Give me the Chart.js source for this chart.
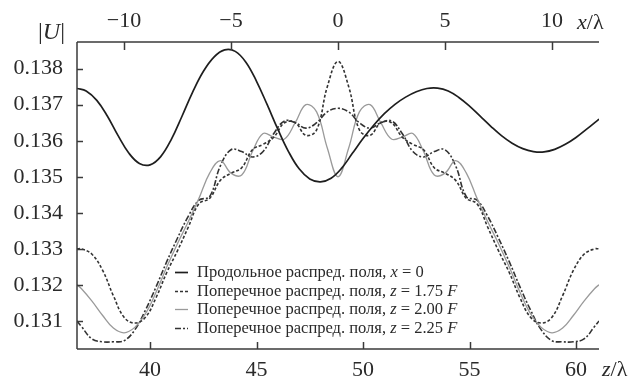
<!DOCTYPE html>
<html>
<head>
<meta charset="utf-8">
<script src="https://cdn.jsdelivr.net/npm/chart.js@4"></script>
<style>
  html, body { margin: 0; padding: 0; background: #fff; }
  #field { display: block; }
</style>
</head>
<body>
<canvas id="field" width="636" height="380"></canvas>
<script>
'use strict'

// longitudinal |U| along the axis, bottom scale z/λ
const zLong = [36.57, 37, 37.5, 38, 38.5, 39, 39.5, 40, 40.5, 41, 41.5, 42, 42.5, 43, 43.5, 44, 44.5, 45, 45.5, 46, 46.5, 47, 47.5, 48, 48.5, 49, 49.5, 50, 50.5, 51, 51.5, 52, 52.5, 53, 53.5, 54, 54.5, 55, 55.5, 56, 56.5, 57, 57.5, 58, 58.5, 59, 59.5, 60, 60.5, 61.08]
const uLong = [0.13745, 0.13738, 0.13712, 0.13668, 0.13614, 0.13566, 0.13537, 0.13533, 0.13556, 0.13604, 0.13668, 0.13735, 0.13792, 0.13832, 0.13852, 0.13848, 0.13818, 0.13765, 0.13700, 0.13632, 0.13570, 0.13522, 0.13494, 0.13486, 0.13496, 0.13524, 0.13565, 0.13606, 0.13643, 0.13675, 0.13701, 0.13721, 0.13736, 0.13745, 0.13746, 0.13738, 0.13720, 0.13696, 0.13668, 0.13640, 0.13614, 0.13593, 0.13578, 0.13570, 0.13569, 0.13576, 0.13590, 0.13609, 0.13632, 0.13660]

// transverse |U| across the beam, top scale x/λ
const xCross = [-12.2, -12, -11.5, -11, -10.5, -10, -9.5, -9, -8.5, -8, -7.5, -7, -6.5, -6, -5.5, -5, -4.5, -4, -3.5, -3, -2.5, -2, -1.5, -1, -0.5, 0, 0.5, 1, 1.5, 2, 2.5, 3, 3.5, 4, 4.5, 5, 5.5, 6, 6.5, 7, 7.5, 8, 8.5, 9, 9.5, 10, 10.5, 11, 11.5, 12, 12.2]
const u175 = [0.13300, 0.13300, 0.13285, 0.13240, 0.13170, 0.13110, 0.13094, 0.13110, 0.13165, 0.13235, 0.13295, 0.13360, 0.13425, 0.13440, 0.13490, 0.13510, 0.13525, 0.13575, 0.13590, 0.13610, 0.13650, 0.13650, 0.13615, 0.13630, 0.13750,
  0.13820,
  0.13750, 0.13630, 0.13615, 0.13650, 0.13650, 0.13610, 0.13590, 0.13575, 0.13525, 0.13510, 0.13490, 0.13440, 0.13425, 0.13360, 0.13295, 0.13235, 0.13165, 0.13110, 0.13094, 0.13110, 0.13170, 0.13240, 0.13285, 0.13300, 0.13300]
const u200 = [0.13200, 0.13190, 0.13155, 0.13115, 0.13080, 0.13067, 0.13082, 0.13120, 0.13180, 0.13250, 0.13315, 0.13375, 0.13440, 0.13510, 0.13545, 0.13510, 0.13505, 0.13570, 0.13620, 0.13610, 0.13605, 0.13650, 0.13700, 0.13680, 0.13580,
  0.13500,
  0.13580, 0.13680, 0.13700, 0.13650, 0.13605, 0.13610, 0.13620, 0.13570, 0.13505, 0.13510, 0.13545, 0.13510, 0.13440, 0.13375, 0.13315, 0.13250, 0.13180, 0.13120, 0.13082, 0.13067, 0.13080, 0.13115, 0.13155, 0.13190, 0.13200]
const u225 = [0.13100, 0.13085, 0.13050, 0.13042, 0.13042, 0.13045, 0.13075, 0.13130, 0.13195, 0.13265, 0.13330, 0.13390, 0.13435, 0.13445, 0.13530, 0.13575, 0.13570, 0.13555, 0.13570, 0.13620, 0.13655, 0.13650, 0.13635, 0.13650, 0.13680,
  0.13690,
  0.13680, 0.13650, 0.13635, 0.13650, 0.13655, 0.13620, 0.13570, 0.13555, 0.13570, 0.13575, 0.13530, 0.13445, 0.13435, 0.13390, 0.13330, 0.13265, 0.13195, 0.13130, 0.13075, 0.13045, 0.13042, 0.13042, 0.13050, 0.13085, 0.13100]

const zTicks = [40, 45, 50, 55, 60]
const xTicks = [-10, -5, 0, 5, 10]
const uTicks = [0.131, 0.132, 0.133, 0.134, 0.135, 0.136, 0.137, 0.138]

const labels = [
  'Продольное распред. поля, x = 0',
  'Поперечное распред. поля, z = 1.75 F',
  'Поперечное распред. поля, z = 2.00 F',
  'Поперечное распред. поля, z = 2.25 F'
]

const SERIF = "'Liberation Serif', 'DejaVu Serif', serif"
const INK = '#2a2a2a'

const toPoints = (xs, ys) => xs.map((x, i) => ({ x: x, y: ys[i] }))

const fixedTicks = (list) => (scale) => {
  scale.ticks = list.map((v) => ({ value: v }))
}

// a label where the lone latin letters are set in italics
const drawMixed = (ctx, text, x, y, size) => {
  const parts = text.split(/(\b[xzFU]\b)/)
  parts.forEach((p) => {
    if (!p) return
    const italic = /^[xzFU]$/.test(p)
    ctx.font = (italic ? 'italic ' : '') + size + 'px ' + SERIF
    ctx.fillText(p, x, y)
    x += ctx.measureText(p).width
  })
}

const frame = {
  id: 'frame',
  afterDraw (chart) {
    const { ctx, chartArea: a, scales } = chart
    ctx.save()
    ctx.strokeStyle = '#3a3a3a'
    ctx.lineWidth = 1.5
    ctx.setLineDash([])

    const seg = (x1, y1, x2, y2) => {
      ctx.beginPath()
      ctx.moveTo(x1, y1)
      ctx.lineTo(x2, y2)
      ctx.stroke()
    }

    // left, top and bottom axis lines, no right border
    seg(a.left, a.top, a.left, a.bottom)
    seg(a.left, a.top, a.right, a.top)
    seg(a.left, a.bottom, a.right, a.bottom)

    // inward tick marks
    zTicks.forEach((v) => {
      const px = Math.round(scales.x.getPixelForValue(v)) + 0.5
      seg(px, a.bottom, px, a.bottom - 7)
    })
    xTicks.forEach((v) => {
      const px = Math.round(scales.x2.getPixelForValue(v)) + 0.5
      seg(px, a.top, px, a.top + 8)
    })
    uTicks.forEach((v) => {
      const py = Math.round(scales.y.getPixelForValue(v)) + 0.5
      seg(a.left, py, a.left + 6, py)
    })

    // axis names
    ctx.fillStyle = INK
    ctx.textBaseline = 'middle'
    ctx.textAlign = 'left'
    drawMixed(ctx, 'x/λ', 577, 23, 22)
    drawMixed(ctx, 'z/λ', 602, 370, 22)
    drawMixed(ctx, '|U|', 38, 33, 24)

    // legend, read from the datasets
    const rowY = 272
    const rowStep = 18.6
    chart.data.datasets.forEach((ds, i) => {
      const y = Math.round(rowY + i * rowStep) + 0.5
      ctx.strokeStyle = ds.borderColor
      ctx.lineWidth = ds.borderWidth
      ctx.setLineDash(ds.borderDash || [])
      seg(175, y, 188, y)
      ctx.setLineDash([])
      ctx.fillStyle = INK
      drawMixed(ctx, ds.label, 197, y, 16.5)
    })
    ctx.restore()
  }
}

const tickFont = { family: SERIF, size: 22 }

new Chart(document.getElementById('field'), {
  type: 'line',
  data: {
    datasets: [
      {
        label: labels[0],
        data: toPoints(zLong, uLong),
        xAxisID: 'x',
        borderColor: '#1e1e1e',
        borderWidth: 1.7
      },
      {
        label: labels[1],
        data: toPoints(xCross, u175),
        xAxisID: 'x2',
        borderColor: '#333333',
        borderWidth: 1.6,
        borderDash: [3, 2]
      },
      {
        label: labels[2],
        data: toPoints(xCross, u200),
        xAxisID: 'x2',
        borderColor: '#9a9a9a',
        borderWidth: 1.3
      },
      {
        label: labels[3],
        data: toPoints(xCross, u225),
        xAxisID: 'x2',
        borderColor: '#333333',
        borderWidth: 1.6,
        borderDash: [6, 2, 2, 2]
      }
    ]
  },
  options: {
    responsive: false,
    animation: false,
    devicePixelRatio: 1,
    layout: { padding: { left: 0, right: 37, top: 0, bottom: 0 } },
    elements: {
      point: { radius: 0 },
      line: { fill: false, tension: 0.4 }
    },
    plugins: {
      legend: { display: false },
      tooltip: { enabled: false }
    },
    scales: {
      x: {
        type: 'linear',
        position: 'bottom',
        min: 36.57,
        max: 61.08,
        afterBuildTicks: fixedTicks(zTicks),
        afterFit: (s) => { s.height = 31 },
        grid: { display: false, drawTicks: false },
        border: { display: false },
        ticks: { font: tickFont, color: INK, padding: 8, maxRotation: 0 }
      },
      x2: {
        type: 'linear',
        position: 'top',
        min: -12.2,
        max: 12.2,
        afterBuildTicks: fixedTicks(xTicks),
        afterFit: (s) => { s.height = 42 },
        grid: { display: false, drawTicks: false },
        border: { display: false },
        ticks: {
          font: tickFont,
          color: INK,
          padding: 8,
          maxRotation: 0,
          callback: (v) => (v < 0 ? '\u2212' + Math.abs(v) : String(v))
        }
      },
      y: {
        type: 'linear',
        min: 0.13022,
        max: 0.13874,
        afterBuildTicks: fixedTicks(uTicks),
        afterFit: (s) => { s.width = 77 },
        grid: { display: false, drawTicks: false },
        border: { display: false },
        ticks: {
          font: tickFont,
          color: INK,
          padding: 14,
          callback: (v) => v.toFixed(3)
        }
      }
    }
  },
  plugins: [frame]
})
</script>
</body>
</html>
